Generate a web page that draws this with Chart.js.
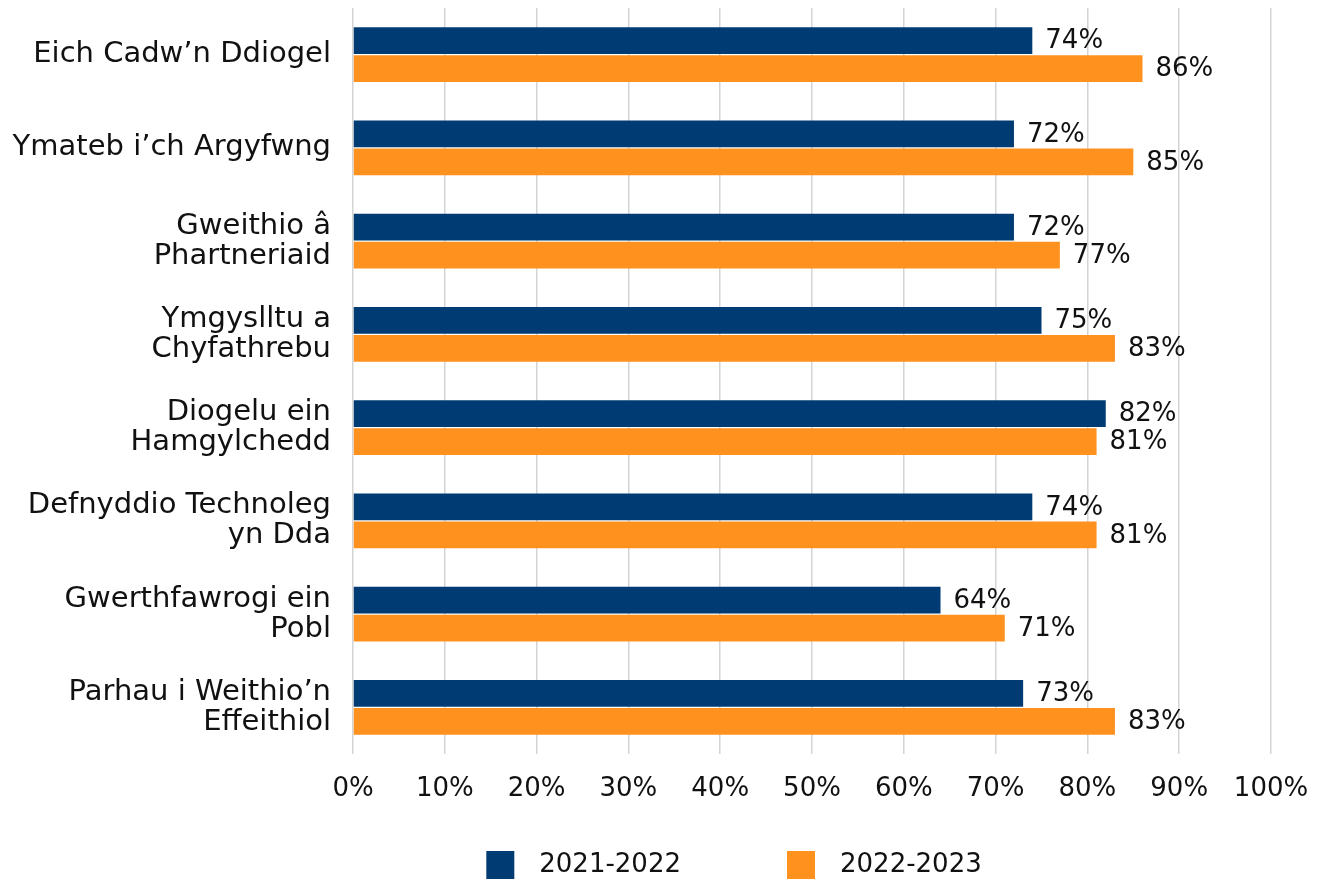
<!DOCTYPE html>
<html>
<head>
<meta charset="utf-8">
<script src="https://cdn.jsdelivr.net/npm/chart.js@4.4.1/dist/chart.umd.min.js"></script>
<style>
html,body{margin:0;padding:0;background:#fff;}
#wrap{width:1324px;height:879px;}
</style>
</head>
<body>
<div id="wrap"><canvas id="c"></canvas></div>
<script>
const categories = [
  ["Eich Cadw\u2019n Ddiogel"],
  ["Ymateb i\u2019ch Argyfwng"],
  ["Gweithio \u00e2", "Phartneriaid"],
  ["Ymgyslltu a", "Chyfathrebu"],
  ["Diogelu ein", "Hamgylchedd"],
  ["Defnyddio Technoleg", "yn Dda"],
  ["Gwerthfawrogi ein", "Pobl"],
  ["Parhau i Weithio\u2019n", "Effeithiol"]
];
const seriesNames = ["2021-2022", "2022-2023"];
const values2122 = [74, 72, 72, 75, 82, 74, 64, 73];
const values2223 = [86, 85, 77, 83, 81, 81, 71, 83];
const xTicks = [0, 10, 20, 30, 40, 50, 60, 70, 80, 90, 100];

const FONT = "DejaVu Sans";
const colors = ['#003B73', '#FF911F'];

// legend swatch: transparent lead-in, square, transparent gap
const SW_LEAD = 100, SW_SIZE = 28, SW_TAIL = 12, SW_W = SW_LEAD + SW_SIZE + SW_TAIL;
function swatch(color) {
  const c = document.createElement('canvas');
  c.width = SW_W; c.height = SW_SIZE;
  const g = c.getContext('2d');
  g.fillStyle = color;
  g.fillRect(SW_LEAD, 0, SW_SIZE, SW_SIZE);
  return c;
}

const valueLabels = {
  id: 'valueLabels',
  afterLayout(chart) {
    if (chart.legend) {
      chart.legend.left = 97;
      chart.legend.top += 9;
      chart.legend.bottom += 9;
    }
  },
  afterDatasetsDraw(chart) {
    const ctx = chart.ctx;
    ctx.save();
    ctx.font = "26px '" + FONT + "'";
    ctx.fillStyle = '#111';
    ctx.textAlign = 'left';
    ctx.textBaseline = 'middle';
    chart.data.datasets.forEach((ds, i) => {
      const meta = chart.getDatasetMeta(i);
      meta.data.forEach((bar, j) => {
        ctx.fillText(Math.round(ds.data[j]) + '%', bar.x + 13, bar.y + 1);
      });
    });
    ctx.restore();
  }
};

new Chart(document.getElementById('c'), {
  type: 'bar',
  data: {
    labels: categories,
    datasets: [
      { label: seriesNames[0], data: values2122, backgroundColor: colors[0], categoryPercentage: 0.6, barPercentage: 0.96 },
      { label: seriesNames[1], data: values2223, backgroundColor: colors[1], categoryPercentage: 0.6, barPercentage: 0.96 }
    ]
  },
  options: {
    indexAxis: 'y',
    responsive: true,
    maintainAspectRatio: false,
    animation: false,
    layout: { padding: { top: 8, right: 53, left: 0, bottom: 0 } },
    scales: {
      x: {
        min: 0, max: 100,
        afterBuildTicks(scale) { scale.ticks = xTicks.map(v => ({ value: v })); },
        afterFit(scale) { scale.height = 83; scale.paddingLeft = 0; scale.paddingRight = 0; },
        ticks: { color: '#111', font: { family: FONT, size: 26 }, padding: 20, callback: v => v + '%' },
        grid: { color: '#d4d4d4', lineWidth: 1.5, drawTicks: false },
        border: { display: false }
      },
      y: {
        afterFit(scale) { scale.width = 353; scale.paddingTop = 0; scale.paddingBottom = 0; },
        ticks: { color: '#111', font: { family: FONT, size: 29, lineHeight: 1.03 }, padding: 22 },
        grid: { display: false, drawTicks: false },
        border: { display: false }
      }
    },
    plugins: {
      legend: {
        position: 'bottom',
        labels: {
          color: '#111', font: { family: FONT, size: 26 }, padding: 6,
          usePointStyle: true, pointStyleWidth: SW_W, boxHeight: SW_SIZE,
          generateLabels(chart) {
            const items = Chart.defaults.plugins.legend.labels.generateLabels(chart);
            items.forEach((it, i) => { it.pointStyle = swatch(colors[i]); });
            return items;
          }
        }
      },
      tooltip: { enabled: false }
    }
  },
  plugins: [valueLabels]
});
</script>
</body>
</html>
